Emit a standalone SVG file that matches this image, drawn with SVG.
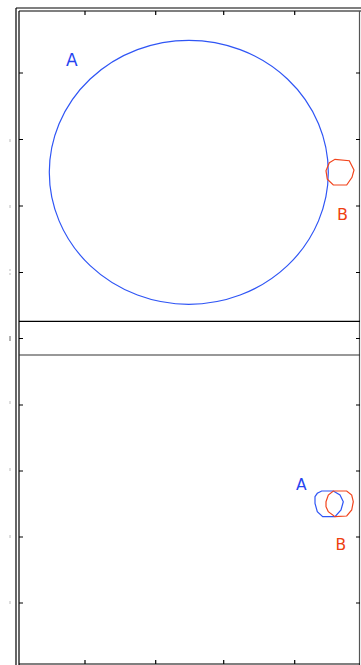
<svg xmlns="http://www.w3.org/2000/svg" width="361" height="665" viewBox="0 0 361 665">
<style>
.frame{fill:none;stroke:#000;stroke-width:1.2}
.tick{stroke:#000;stroke-width:1.2}
.faint{stroke:#bbb;stroke-width:1}
.a{fill:none;stroke:#2f55f5;stroke-width:1.2}
.b{fill:none;stroke:#f2441c;stroke-width:1.2}
.la{font-family:"DejaVu Sans",Verdana,sans-serif;fill:#2644f0}
.lb{font-family:"DejaVu Sans",Verdana,sans-serif;fill:#ee4010}
</style>
<rect width="361" height="665" fill="#fff"/>
<g id="axes">
<line class="frame" x1="16" y1="8" x2="16" y2="665"/>
<line class="frame" x1="19" y1="11" x2="19" y2="665"/>
<line class="frame" x1="16" y1="8" x2="361" y2="8"/>
<line class="frame" x1="19" y1="11" x2="361" y2="11"/>
<line x1="359.5" y1="11" x2="359.5" y2="665" stroke="#555" stroke-width="1.2"/>
<line class="frame" x1="19" y1="321.3" x2="360" y2="321.3"/>
<line x1="19" y1="355" x2="360" y2="355" stroke="#333" stroke-width="1.2"/>
<line class="frame" x1="19" y1="664" x2="360" y2="664"/>
</g>
<g id="ticks">
<path class="tick" d="M85 11v4M155.7 11v4M223.7 11v4M294.7 11v4M85 664v-4M155.7 664v-4M223.7 664v-4M294.7 664v-4"/>
<path class="tick" d="M19 73h4M19 139.5h4M19 206h4M19 272.5h4M19 338.5h4M19 405h4M19 471h4M19 537h4M19 603h4"/>
<path class="tick" d="M360 73h-4M360 139.5h-4M360 206h-4M360 272.5h-4M360 338.5h-4M360 405h-4M360 471h-4M360 537h-4M360 603h-4"/>
<path class="faint" d="M10 139v3M10 205v3M10 269v2M10 273v2M10 401v3M10 468v3M10 535v3M10 601v3"/>
<path d="M10 336v5" stroke="#666" stroke-width="1"/>
</g>
<g id="A-top">
<ellipse class="a" cx="188.8" cy="172.3" rx="139.5" ry="132"/>
<text class="la" x="66" y="66" font-size="17">A</text>
</g>
<g id="B-top">
<polygon class="b" points="329.3,162.7 335,159.3 349.3,160.7 354,170 352,177.3 346.7,185 333.3,185 327.3,179.3 326,170.7"/>
<text class="lb" x="337" y="220" font-size="16">B</text>
</g>
<g id="A-bottom">
<polygon class="a" points="315,496.7 317.3,493.3 321.7,491 333.3,491 340,495 343.3,501.7 341,510 335,516.7 322.7,516.7 317.3,511.7 315,503.3"/>
<text class="la" x="296" y="489.5" font-size="15.5">A</text>
</g>
<g id="B-bottom">
<polygon class="b" points="326,501.7 328.3,495 333.3,491 346.7,491 351.7,495 353.3,501.7 351.7,510 346.7,516 335,516.7 328.3,511.7 326,506.7"/>
<text class="lb" x="335.5" y="550" font-size="15.5">B</text>
</g>
</svg>
